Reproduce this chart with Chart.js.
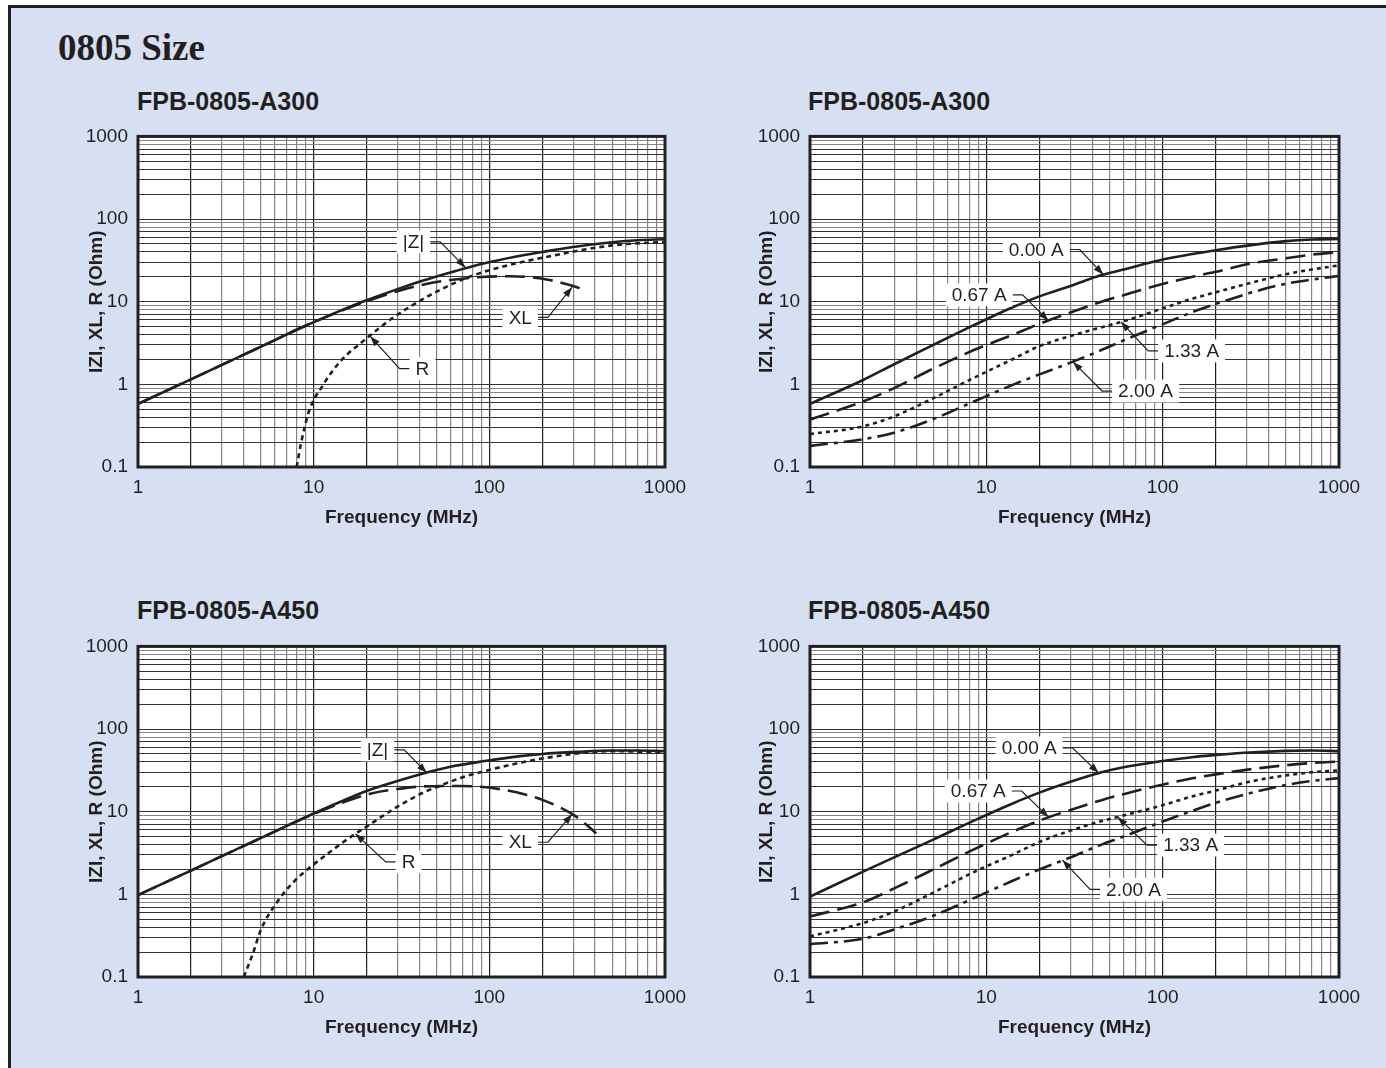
<!DOCTYPE html>
<html>
<head>
<meta charset="utf-8">
<script src="https://cdn.jsdelivr.net/npm/chart.js@4.4.0/dist/chart.umd.min.js"></script>
<style>
html, body { margin: 0; padding: 0; width: 1386px; height: 1068px; overflow: hidden; background: #fff; }
#frame { position: absolute; left: 8px; top: 5px; width: 1400px; height: 1100px;
  border-left: 3px solid #231f20; border-top: 3px solid #231f20; background: #d7e0f2; }
.page-title { position: absolute; left: 58px; top: 29px; font: bold 37px/37px "Liberation Serif", "Times New Roman", serif; color: #231f20; }
.chart-title { position: absolute; font: bold 25px/25px "Liberation Sans", Arial, sans-serif; color: #231f20; }
canvas { position: absolute; }
</style>
</head>
<body>
<div id="frame"></div>
<div class="page-title">0805 Size</div>
<div class="chart-title" style="left:137px;top:89px">FPB-0805-A300</div>
<div class="chart-title" style="left:808px;top:89px">FPB-0805-A300</div>
<div class="chart-title" style="left:137px;top:598px">FPB-0805-A450</div>
<div class="chart-title" style="left:808px;top:598px">FPB-0805-A450</div>
<canvas id="c1" width="660" height="430" style="left:60px;top:115px"></canvas>
<canvas id="c2" width="656" height="430" style="left:730px;top:115px"></canvas>
<canvas id="c3" width="660" height="430" style="left:60px;top:625px"></canvas>
<canvas id="c4" width="656" height="430" style="left:730px;top:625px"></canvas>
<script>
// ---- data (MHz / Ohm) ----
// FPB-0805-A300, impedance components
const a300ZFreq = [1, 2, 3, 5, 8.6, 14, 20, 30, 42, 60, 90, 140, 200, 300, 500, 700, 1000];
const a300Z     = [0.58, 1.15, 1.72, 2.85, 4.9, 7.7, 10.4, 14.2, 18, 22.5, 28.5, 35, 40, 46, 52.5, 55.5, 57];
const a300XLFreq = [1, 2, 3, 5, 8.6, 14, 20, 30, 45, 60, 90, 130, 170, 220, 280, 330];
const a300XL     = [0.58, 1.15, 1.72, 2.85, 4.9, 7.6, 10.1, 13.4, 16.6, 18.3, 19.9, 20.3, 19.8, 18.3, 16.2, 14.5];
const a300RFreq = [8, 8.5, 9.4, 11.3, 14.2, 20, 28, 42, 68, 100, 200, 500, 1000];
const a300R     = [0.1, 0.2, 0.47, 0.98, 1.9, 3.6, 6.3, 10.8, 18, 24, 34, 48, 53];

// FPB-0805-A300, |Z| vs DC bias current
const biasFreq = [1, 2, 3, 5, 8.5, 14, 20, 30, 45, 60, 95, 150, 200, 310, 500, 700, 1000];
const a300I000 = [0.58, 1.13, 1.75, 3.0, 5.2, 8.5, 11.6, 15.5, 21, 24.5, 31.5, 38, 42, 48, 54, 56.5, 57.5];
const a300I067 = [0.376, 0.62, 0.9, 1.55, 2.6, 3.95, 5.4, 7.4, 10, 12, 15.9, 20.2, 23, 28.8, 33.5, 37, 40];
const a300I133 = [0.25, 0.31, 0.41, 0.68, 1.2, 2.0, 2.9, 3.85, 4.9, 5.8, 8.0, 11, 13, 16.7, 21.5, 24.5, 27.5];
const a300I200 = [0.18, 0.217, 0.26, 0.38, 0.62, 0.98, 1.32, 1.83, 2.6, 3.4, 5.1, 7.6, 9.4, 12.7, 16.5, 18.5, 20.5];

// FPB-0805-A450, impedance components
const a450ZFreq = [1, 2, 3, 5, 10, 14, 20, 30, 42, 60, 94, 150, 200, 316, 500, 700, 1000];
const a450Z     = [0.98, 1.94, 2.9, 4.8, 9.5, 13, 17.8, 23.5, 29, 35, 41, 47, 50, 53, 55, 55, 54];
const a450XLFreq = [1, 2, 3, 5, 10, 14, 21, 30, 42, 68, 112, 160, 202, 250, 303, 350, 406];
const a450XL     = [0.98, 1.94, 2.9, 4.8, 9.4, 12.5, 16.5, 18.8, 20.2, 20.5, 18.9, 16.2, 13.8, 11.4, 9.1, 7.2, 5.5];
const a450RFreq = [4.0, 4.5, 5, 6.3, 7.9, 10, 12, 15, 17.3, 20, 30, 42, 52, 70, 94, 200, 500, 1000];
const a450R     = [0.1, 0.19, 0.37, 0.85, 1.5, 2.3, 3.1, 4.4, 5.4, 6.6, 11.5, 17, 20.5, 26, 31, 44, 54, 52];

// FPB-0805-A450, |Z| vs DC bias current
const a450I000 = [0.94, 1.88, 2.8, 4.6, 7.8, 12.5, 17, 23, 30, 34.5, 40.5, 46, 48.5, 52, 54.5, 55, 54];
const a450I067 = [0.54, 0.8, 1.18, 2.0, 3.5, 5.7, 7.8, 10.5, 13.8, 16.3, 20.8, 25.5, 28.3, 32.5, 36.5, 38.8, 40.5];
const a450I133 = [0.31, 0.45, 0.62, 1.05, 1.86, 3.0, 4.3, 5.9, 7.7, 9.0, 11.6, 15.5, 18, 23, 27.5, 30, 31.6];
const a450I200 = [0.25, 0.29, 0.376, 0.55, 0.9, 1.45, 2.0, 2.8, 4.0, 5.0, 7.3, 10.4, 12.8, 16.7, 21, 23.5, 25.5];

const xRange = [1, 1000];
const yRange = [0.1, 1000];
const yTitle = 'IZI, XL, R (Ohm)';
const xTitle = 'Frequency (MHz)';

const INK = '#231f20';
const FONT = '"Liberation Sans", Arial, Helvetica, sans-serif';
Chart.defaults.font.family = FONT;
Chart.defaults.color = INK;
Chart.defaults.animation = false;

const SOLID = [], LONGDASH = [20, 8], DOTS = [4, 4], DASHDOT = [18, 6, 4, 6];

function logGrid(lo, hi) {
  const out = [];
  for (let d = lo; d < hi * 0.999; d *= 10) {
    for (let k = 1; k <= 9; k++) out.push(Number((k * d).toPrecision(3)));
  }
  out.push(hi);
  return out;
}
function isDecade(v) { return Math.abs(Math.log10(v) % 1) < 1e-6; }
function lead(v) { return Number(String(v).replace('0.', '').replace(/0/g, '')[0]); }

const plotBg = {
  id: 'plotBg',
  beforeDraw(chart) {
    const a = chart.chartArea, ctx = chart.ctx;
    ctx.save(); ctx.fillStyle = '#fff';
    ctx.fillRect(a.left, a.top, a.right - a.left, a.bottom - a.top);
    ctx.restore();
  },
  afterDatasetsDraw(chart) {
    const a = chart.chartArea, ctx = chart.ctx;
    ctx.save(); ctx.strokeStyle = INK; ctx.lineWidth = 3;
    ctx.strokeRect(a.left, a.top, a.right - a.left, a.bottom - a.top);
    ctx.restore();
  }
};

// boxed labels with leader arrows, placed in data units
const callouts = {
  id: 'callouts',
  afterDraw(chart, args, opts) {
    const xs = chart.scales.x, ys = chart.scales.y, ctx = chart.ctx;
    ctx.save();
    ctx.font = '19px ' + FONT;
    (opts.items || []).forEach(a => {
      const cx = xs.getPixelForValue(a.at[0]), cy = ys.getPixelForValue(a.at[1]);
      const w = ctx.measureText(a.text).width + 12, h = 23;
      const sx = a.side === 'right' ? cx + w / 2 : cx - w / 2;
      const ex = sx + (a.side === 'right' ? 10 : -10);
      const tx = xs.getPixelForValue(a.tip[0]), ty = ys.getPixelForValue(a.tip[1]);
      ctx.strokeStyle = INK; ctx.lineWidth = 1.2;
      ctx.beginPath(); ctx.moveTo(sx, cy); ctx.lineTo(ex, cy); ctx.lineTo(tx, ty); ctx.stroke();
      const ang = Math.atan2(ty - cy, tx - ex);
      ctx.fillStyle = INK;
      ctx.beginPath();
      ctx.moveTo(tx, ty);
      ctx.lineTo(tx - 10 * Math.cos(ang) + 3.5 * Math.sin(ang), ty - 10 * Math.sin(ang) - 3.5 * Math.cos(ang));
      ctx.lineTo(tx - 10 * Math.cos(ang) - 3.5 * Math.sin(ang), ty - 10 * Math.sin(ang) + 3.5 * Math.cos(ang));
      ctx.closePath(); ctx.fill();
      ctx.fillStyle = '#fff';
      ctx.fillRect(cx - w / 2, cy - h / 2, w, h);
      ctx.fillStyle = INK; ctx.textAlign = 'center'; ctx.textBaseline = 'middle';
      ctx.fillText(a.text, cx, cy + 1);
    });
    ctx.restore();
  }
};

function series(label, freq, vals, dash) {
  return {
    label, data: freq.map((f, i) => ({ x: f, y: vals[i] })),
    borderColor: INK, borderWidth: 2.6, borderDash: dash, pointRadius: 0,
    cubicInterpolationMode: 'monotone', fill: false
  };
}

function makeChart(id, yAxisWidth, datasets, items) {
  return new Chart(document.getElementById(id), {
    type: 'line',
    data: { datasets },
    options: {
      responsive: false,
      layout: { padding: { top: 16, right: id === 'c1' || id === 'c3' ? 55 : 47, left: 0, bottom: 0 } },
      plugins: { legend: { display: false }, tooltip: { enabled: false }, callouts: { items } },
      scales: {
        x: {
          type: 'logarithmic', min: xRange[0], max: xRange[1],
          afterBuildTicks: s => { s.ticks = logGrid(xRange[0], xRange[1]).map(v => ({ value: v })); },
          afterFit: s => { s.height = 78; },
          ticks: { autoSkip: false, maxRotation: 0, padding: 9, font: { size: 19 },
            callback: v => isDecade(v) ? String(v) : '' },
          grid: { drawTicks: false, lineWidth: 1.2,
            color: c => (c.tick && (isDecade(c.tick.value) || lead(c.tick.value) === 2)) ? INK : '#858585' },
          border: { display: false },
          title: { display: true, text: xTitle, font: { size: 19, weight: 'bold' }, padding: { top: 0, bottom: 16 } }
        },
        y: {
          type: 'logarithmic', min: yRange[0], max: yRange[1],
          afterBuildTicks: s => { s.ticks = logGrid(yRange[0], yRange[1]).map(v => ({ value: v })); },
          afterFit: s => { s.width = yAxisWidth; },
          ticks: { autoSkip: false, padding: 10, font: { size: 19 },
            callback: v => isDecade(v) ? String(v) : '' },
          grid: { drawTicks: false, lineWidth: 1.1,
            color: c => (c.tick && lead(c.tick.value) >= 8 && !isDecade(c.tick.value)) ? '#858585' : '#333' },
          border: { display: false },
          title: { display: true, text: yTitle, font: { size: 19, weight: 'bold' }, padding: { top: 25, bottom: 0 } }
        }
      }
    },
    plugins: [plotBg, callouts]
  });
}

makeChart('c1', 78, [
  series('|Z|', a300ZFreq, a300Z, SOLID),
  series('XL', a300XLFreq, a300XL, LONGDASH),
  series('R', a300RFreq, a300R, [5, 4])
], [
  { text: '|Z|', at: [37, 53], tip: [73, 26], side: 'right' },
  { text: 'XL', at: [150, 6.45], tip: [296, 15], side: 'right' },
  { text: 'R', at: [41.6, 1.55], tip: [21, 3.8], side: 'left' }
]);

makeChart('c2', 80, [
  series('0.00 A', biasFreq, a300I000, SOLID),
  series('0.67 A', biasFreq, a300I067, LONGDASH),
  series('1.33 A', biasFreq, a300I133, DOTS),
  series('2.00 A', biasFreq, a300I200, DASHDOT)
], [
  { text: '0.00 A', at: [19.2, 42.8], tip: [46, 21.3], side: 'right' },
  { text: '0.67 A', at: [9.1, 12.1], tip: [22.5, 5.9], side: 'right' },
  { text: '1.33 A', at: [146, 2.54], tip: [58, 5.7], side: 'left' },
  { text: '2.00 A', at: [80, 0.83], tip: [31, 1.87], side: 'left' }
]);

makeChart('c3', 78, [
  series('|Z|', a450ZFreq, a450Z, SOLID),
  series('XL', a450XLFreq, a450XL, LONGDASH),
  series('R', a450RFreq, a450R, [5, 4])
], [
  { text: '|Z|', at: [23.1, 56], tip: [44, 29.5], side: 'right' },
  { text: 'XL', at: [150, 4.27], tip: [296, 9.3], side: 'right' },
  { text: 'R', at: [34.7, 2.47], tip: [17.3, 5.4], side: 'left' }
]);

makeChart('c4', 80, [
  series('0.00 A', biasFreq, a450I000, SOLID),
  series('0.67 A', biasFreq, a450I067, LONGDASH),
  series('1.33 A', biasFreq, a450I133, DOTS),
  series('2.00 A', biasFreq, a450I200, DASHDOT)
], [
  { text: '0.00 A', at: [17.5, 59], tip: [43.3, 29.5], side: 'right' },
  { text: '0.67 A', at: [9.0, 17.8], tip: [22.5, 8.6], side: 'right' },
  { text: '1.33 A', at: [144, 3.94], tip: [55.5, 8.6], side: 'left' },
  { text: '2.00 A', at: [68.4, 1.15], tip: [27, 2.6], side: 'left' }
]);
</script>
</body>
</html>
